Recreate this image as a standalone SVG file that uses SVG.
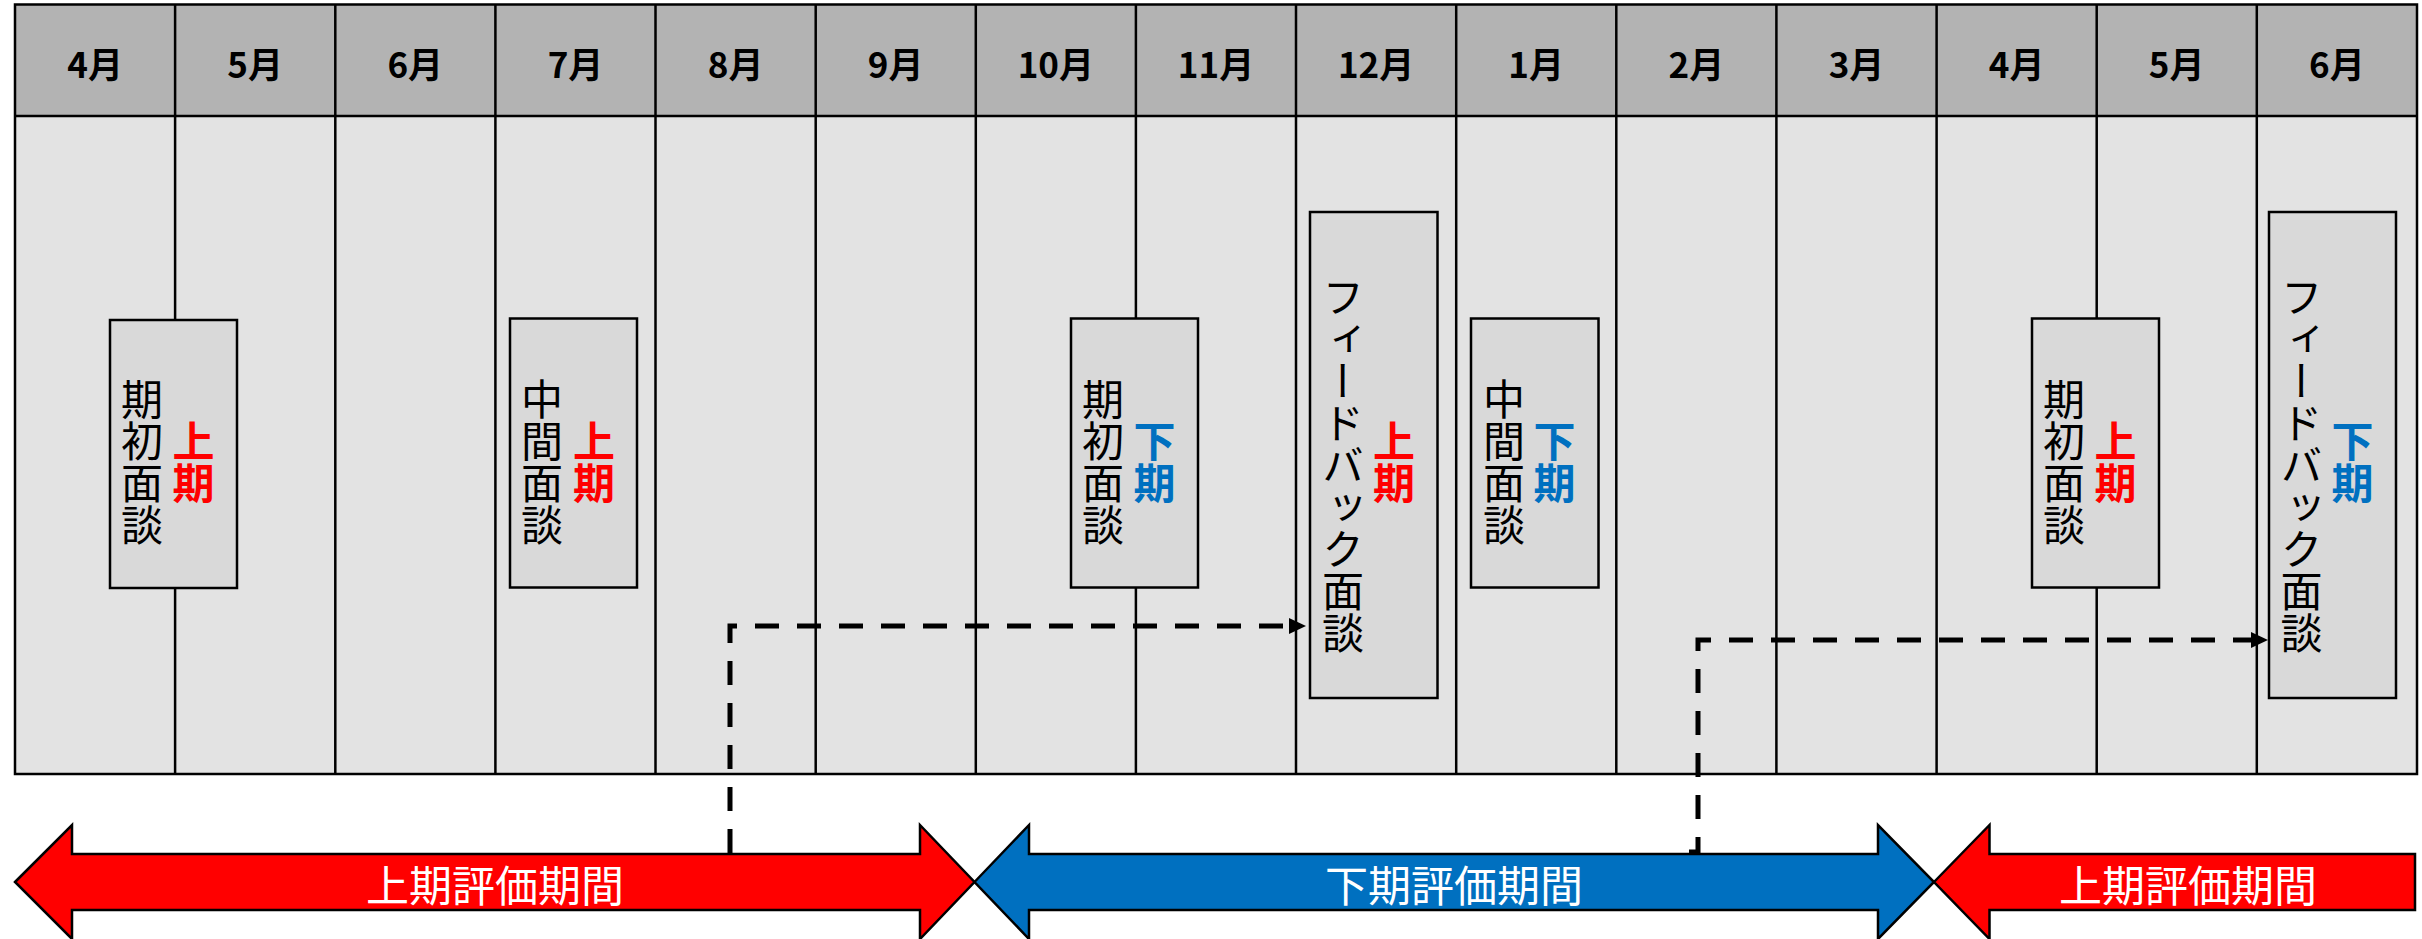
<svg xmlns="http://www.w3.org/2000/svg" width="2422" height="939" viewBox="0 0 2422 939">
<style>
.hdrbg{fill:#B3B3B3}
.body{fill:#E3E3E3}
.grid{stroke:#000;stroke-width:2.5;fill:none}
.hdr{font-family:"Noto Sans CJK JP","Noto Sans",sans-serif;font-weight:bold;font-size:35px;text-anchor:middle;dominant-baseline:central;fill:#000}
.box{fill:#D9D9D9;stroke:#000;stroke-width:2.5}
.vt{font-family:"Noto Sans CJK JP",sans-serif;font-size:42px;writing-mode:vertical-rl;text-anchor:middle;fill:#000}
.vb{font-weight:bold}
.red{fill:#FF0000}
.blue{fill:#0070C0}
.arrow{stroke:#000;stroke-width:2.5;stroke-linejoin:miter}
.atext{font-family:"Noto Sans CJK JP",sans-serif;font-size:43px;fill:#FFFFFF;text-anchor:middle;dominant-baseline:central}
.conn{fill:none;stroke:#000;stroke-width:5;stroke-dasharray:24 18}
</style>
<defs>
<marker id="ah" markerUnits="userSpaceOnUse" viewBox="0 0 17 16" markerWidth="17" markerHeight="16" refX="8" refY="8" orient="auto">
<path d="M0 0 L17 8 L0 16 Z" fill="#000"/>
</marker>
</defs>

<g id="table">
<rect class="hdrbg" x="15" y="4.5" width="2402" height="111.5"/>
<rect class="body" x="15" y="116" width="2402" height="658"/>
<rect class="grid" x="15" y="4.5" width="2402" height="769.5"/>
<line class="grid" x1="15" y1="116" x2="2417" y2="116"/>
<path class="grid" d="M175.1 4.5V774M335.3 4.5V774M495.4 4.5V774M655.5 4.5V774M815.7 4.5V774M975.8 4.5V774M1135.9 4.5V774M1296 4.5V774M1456.2 4.5V774M1616.3 4.5V774M1776.4 4.5V774M1936.6 4.5V774M2096.7 4.5V774M2256.8 4.5V774"/>
<text class="hdr" x="95.1" y="62">4月</text>
<text class="hdr" x="255.2" y="62">5月</text>
<text class="hdr" x="415.3" y="62">6月</text>
<text class="hdr" x="575.5" y="62">7月</text>
<text class="hdr" x="735.6" y="62">8月</text>
<text class="hdr" x="895.7" y="62">9月</text>
<text class="hdr" x="1055.8" y="62">10月</text>
<text class="hdr" x="1216" y="62">11月</text>
<text class="hdr" x="1376.1" y="62">12月</text>
<text class="hdr" x="1536.2" y="62">1月</text>
<text class="hdr" x="1696.4" y="62">2月</text>
<text class="hdr" x="1856.5" y="62">3月</text>
<text class="hdr" x="2016.6" y="62">4月</text>
<text class="hdr" x="2176.7" y="62">5月</text>
<text class="hdr" x="2336.9" y="62">6月</text>
</g>

<g id="connectors">
<path class="conn" d="M730 853V626H1297" marker-end="url(#ah)"/>
<path class="conn" d="M1689 852H1698V640H2259" marker-end="url(#ah)"/>
</g>

<g id="n1">
<rect class="box" x="110" y="320" width="127" height="268"/>
<text class="vt" x="142" y="462">期初面談</text>
<text class="vt vb red" x="193.5" y="462">上期</text>
</g>
<g id="n2">
<rect class="box" x="510" y="318.5" width="127" height="269"/>
<text class="vt" x="542" y="462">中間面談</text>
<text class="vt vb red" x="594" y="462">上期</text>
</g>
<g id="n3">
<rect class="box" x="1071" y="318.5" width="127" height="269"/>
<text class="vt" x="1103" y="462">期初面談</text>
<text class="vt vb blue" x="1154.5" y="462">下期</text>
</g>
<g id="n4">
<rect class="box" x="1310" y="212" width="127.5" height="486"/>
<text class="vt" x="1343" y="465">フィードバック面談</text>
<text class="vt vb red" x="1394" y="462">上期</text>
</g>
<g id="n5">
<rect class="box" x="1471" y="318.5" width="127.5" height="269"/>
<text class="vt" x="1504" y="462">中間面談</text>
<text class="vt vb blue" x="1554.5" y="462">下期</text>
</g>
<g id="n6">
<rect class="box" x="2032" y="318.5" width="127" height="269"/>
<text class="vt" x="2064" y="462">期初面談</text>
<text class="vt vb red" x="2115.5" y="462">上期</text>
</g>
<g id="n7">
<rect class="box" x="2269" y="212" width="127" height="486"/>
<text class="vt" x="2301.5" y="465">フィードバック面談</text>
<text class="vt vb blue" x="2352.5" y="462">下期</text>
</g>

<g id="a1">
<path class="arrow red" d="M15 882L72 825V854H920V825L974.5 882L920 939V910H72V939Z"/>
<text class="atext" x="495" y="883">上期評価期間</text>
</g>
<g id="a2">
<path class="arrow blue" d="M974.5 882L1029 825V854H1878V825L1934 882L1878 939V910H1029V939Z"/>
<text class="atext" x="1454" y="883">下期評価期間</text>
</g>
<g id="a3">
<path class="arrow red" d="M1934 882L1989.5 825V854H2415V910H1989.5V939Z"/>
<text class="atext" x="2188" y="883">上期評価期間</text>
</g>
</svg>
